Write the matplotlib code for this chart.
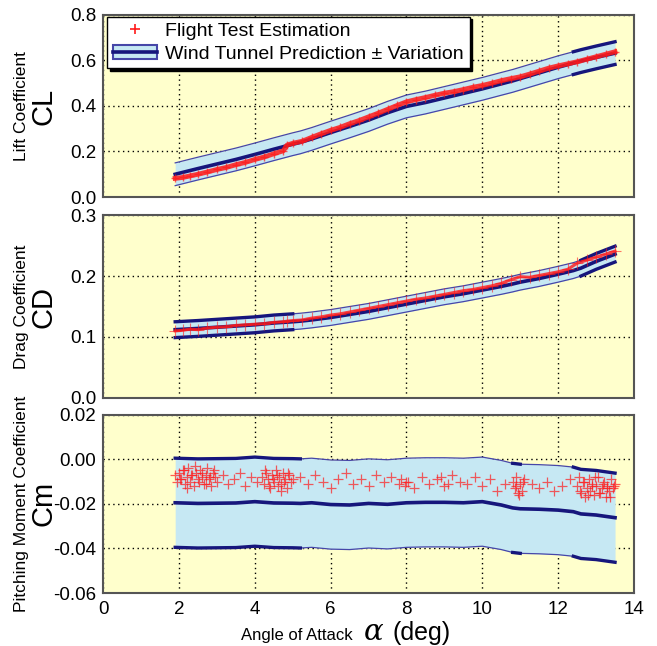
import numpy as np
import matplotlib
matplotlib.use("Agg")
import matplotlib.pyplot as plt
from matplotlib.lines import Line2D
from matplotlib.patches import Patch

plt.rcParams['font.family'] = ['Liberation Sans', 'DejaVu Sans']
plt.rcParams['axes.unicode_minus'] = False

# wind tunnel prediction (centre line), sampled along alpha
a_wt = [1.9, 2.5, 3.0, 3.5, 4.0, 4.5, 5.0, 5.2, 5.5, 6.0, 6.5, 7.0, 7.5, 8.0,
        8.5, 9.0, 9.5, 10.0, 10.5, 10.8, 11.0, 11.5, 12.0, 12.4, 12.6, 13.0, 13.5]
cl_wt = [0.100, 0.125, 0.145, 0.165, 0.187, 0.210, 0.232, 0.240, 0.255, 0.283,
         0.310, 0.338, 0.370, 0.398, 0.415, 0.435, 0.455, 0.475, 0.497, 0.510,
         0.520, 0.545, 0.570, 0.588, 0.597, 0.613, 0.632]
cd_wt = [0.112, 0.114, 0.116, 0.118, 0.120, 0.123, 0.125, 0.126, 0.128, 0.132,
         0.137, 0.142, 0.148, 0.154, 0.160, 0.166, 0.171, 0.177, 0.183, 0.187,
         0.190, 0.196, 0.203, 0.209, 0.213, 0.224, 0.236]
cm_wt = [-0.0195, -0.0198, -0.0197, -0.0196, -0.0190, -0.0196, -0.0197, -0.0198,
         -0.0195, -0.0203, -0.0205, -0.0198, -0.0202, -0.0195, -0.0193, -0.0193,
         -0.0195, -0.0190, -0.0205, -0.0218, -0.0222, -0.0224, -0.0228, -0.0235,
         -0.0245, -0.0250, -0.0262]
cl_var = 0.05
cd_var = 0.013
cm_var = 0.02

# flight test estimates
a_ft = [1.9, 2.1, 2.3, 2.5, 2.75, 3.0, 3.25, 3.5, 3.75, 4.0, 4.25, 4.5, 4.75,
        4.85, 5.0, 5.25, 5.5, 5.75, 6.0, 6.25, 6.5, 6.75, 7.0, 7.25, 7.5, 7.75,
        8.0, 8.25, 8.5, 8.75, 9.0, 9.25, 9.5, 9.75, 10.0, 10.25, 10.5, 10.75,
        11.0, 11.25, 11.5, 11.75, 12.0, 12.25, 12.5, 12.75, 13.0, 13.25, 13.5]
cl_ft = [0.082, 0.086, 0.093, 0.100, 0.110, 0.121, 0.130, 0.142, 0.152, 0.165,
         0.176, 0.190, 0.203, 0.228, 0.236, 0.245, 0.262, 0.278, 0.293, 0.306,
         0.322, 0.336, 0.352, 0.368, 0.385, 0.402, 0.418, 0.428, 0.437, 0.447,
         0.456, 0.463, 0.472, 0.482, 0.490, 0.500, 0.511, 0.520, 0.528, 0.540,
         0.553, 0.566, 0.576, 0.585, 0.594, 0.605, 0.616, 0.627, 0.638]
cd_ft = [0.110, 0.111, 0.113, 0.112, 0.115, 0.116, 0.117, 0.119, 0.120, 0.121,
         0.122, 0.124, 0.125, 0.126, 0.127, 0.128, 0.131, 0.133, 0.136, 0.138,
         0.141, 0.144, 0.147, 0.150, 0.153, 0.156, 0.159, 0.162, 0.164, 0.167,
         0.170, 0.173, 0.176, 0.178, 0.181, 0.184, 0.188, 0.194, 0.199, 0.198,
         0.201, 0.204, 0.207, 0.211, 0.221, 0.226, 0.231, 0.236, 0.241]

cm_ft_a = [1.90, 1.95, 2.00, 2.05, 2.10, 2.15, 2.20, 2.25, 2.30, 2.35, 2.40, 2.45,
           2.50, 2.55, 2.60, 2.65, 2.70, 2.75, 2.80, 2.85, 2.90, 2.95, 3.00,
           2.02, 2.12, 2.22, 2.32, 2.42, 2.52, 2.62, 2.72, 2.82, 2.92,
           3.15, 3.30, 3.45, 3.60, 3.75, 3.90, 4.05,
           4.20, 4.25, 4.30, 4.35, 4.40, 4.45, 4.50, 4.55, 4.60, 4.65, 4.70, 4.75,
           4.80, 4.85, 4.90, 4.95, 5.00,
           4.28, 4.38, 4.48, 4.58, 4.68, 4.78, 4.88,
           5.2, 5.4, 5.6, 5.8, 6.0, 6.2, 6.4, 6.6, 6.8, 7.0, 7.2, 7.4, 7.6, 7.8,
           8.0, 8.2, 8.4, 8.6, 8.8, 9.0, 9.2, 9.4, 9.6, 9.8, 10.0, 10.2, 10.4, 10.6,
           7.85, 7.95, 8.05, 8.9, 9.1,
           10.80, 10.85, 10.90, 10.95, 11.00, 11.05, 11.10, 10.88, 10.98, 11.08,
           11.3, 11.5, 11.7, 11.9, 12.1, 12.3,
           12.50, 12.55, 12.60, 12.65, 12.70, 12.75, 12.80, 12.85, 12.90, 12.95,
           13.00, 13.05, 13.10, 13.15, 13.20, 13.25, 13.30, 13.35, 13.40, 13.45, 13.50,
           12.58, 12.68, 12.78, 12.88, 12.98, 13.08, 13.18, 13.28, 13.38, 13.48]
cm_ft = [-0.007, -0.010, -0.006, -0.009, -0.005, -0.011, -0.008, -0.004, -0.010,
         -0.007, -0.012, -0.006, -0.009, -0.005, -0.008, -0.011, -0.007, -0.004,
         -0.009, -0.012, -0.006, -0.008, -0.010,
         -0.009, -0.005, -0.013, -0.007, -0.003, -0.010, -0.006, -0.011, -0.008, -0.005,
         -0.007, -0.011, -0.009, -0.006, -0.012, -0.008, -0.010,
         -0.008, -0.011, -0.006, -0.009, -0.013, -0.007, -0.010, -0.005, -0.012,
         -0.008, -0.011, -0.006, -0.009, -0.013, -0.007, -0.010, -0.009,
         -0.005, -0.012, -0.009, -0.007, -0.014, -0.010, -0.006,
         -0.008, -0.011, -0.007, -0.010, -0.013, -0.009, -0.006, -0.011, -0.009,
         -0.012, -0.007, -0.010, -0.008, -0.011, -0.010, -0.013, -0.008, -0.011,
         -0.009, -0.012, -0.007, -0.010, -0.011, -0.008, -0.012, -0.009, -0.014, -0.011,
         -0.009, -0.012, -0.010, -0.008, -0.011,
         -0.010, -0.013, -0.008, -0.015, -0.011, -0.014, -0.009, -0.012, -0.016, -0.010,
         -0.011, -0.013, -0.010, -0.014, -0.012, -0.009,
         -0.012, -0.008, -0.015, -0.010, -0.017, -0.013, -0.009, -0.014, -0.011,
         -0.016, -0.012, -0.008, -0.015, -0.013, -0.010, -0.017, -0.012, -0.014,
         -0.009, -0.013, -0.011,
         -0.014, -0.010, -0.016, -0.012, -0.008, -0.015, -0.011, -0.013, -0.017, -0.012]

# alpha ranges where the bounds are traced heavily
heavy_cl = [(12.4, 13.5)]
heavy_cd = [(1.9, 5.0), (12.6, 13.5)]
heavy_cm = [(1.9, 5.2), (10.8, 11.0), (12.4, 13.5)]

bg = '#ffffcc'
band = '#c6e8f3'
edge = '#4646a8'
navy = '#16167c'
red = '#ff1a1a'


def draw_band(ax, a, c, var, heavy):
    a = np.asarray(a)
    c = np.asarray(c)
    ax.fill_between(a, c - var, c + var, color=band, lw=0, zorder=2)
    ax.plot(a, c + var, color=edge, lw=0.9, zorder=3)
    ax.plot(a, c - var, color=edge, lw=0.9, zorder=3)
    for lo, hi in heavy:
        m = (a >= lo) & (a <= hi)
        ax.plot(a[m], c[m] + var, color=navy, lw=2.4, zorder=3)
        ax.plot(a[m], c[m] - var, color=navy, lw=2.4, zorder=3)
    ax.plot(a, c, color=navy, lw=2.6, zorder=4)


fig = plt.figure(figsize=(6.57, 6.46), dpi=100)
ax1 = fig.add_axes([0.157, 0.695, 0.808, 0.282])
ax2 = fig.add_axes([0.157, 0.384, 0.808, 0.283])
ax3 = fig.add_axes([0.157, 0.082, 0.808, 0.276])

draw_band(ax1, a_wt, cl_wt, cl_var, heavy_cl)
ax1.plot(a_ft, cl_ft, color=red, lw=3.5, alpha=0.85, zorder=5)
ax1.plot(a_ft, cl_ft, '+', color=red, ms=6, mew=1, alpha=0.7, zorder=5)

draw_band(ax2, a_wt, cd_wt, cd_var, heavy_cd)
ax2.plot(a_ft, cd_ft, color=red, lw=2.2, alpha=0.8, zorder=5)
ax2.plot(a_ft, cd_ft, '+', color=red, ms=8, mew=0.8, alpha=0.6, zorder=5)

draw_band(ax3, a_wt, cm_wt, cm_var, heavy_cm)
ax3.plot(cm_ft_a, cm_ft, '+', color=red, ms=7, mew=0.9, alpha=0.7, zorder=5)

ax1.set_ylim(0, 0.8)
ax1.set_yticks([0.0, 0.2, 0.4, 0.6, 0.8])
ax1.set_yticklabels(['0.0', '0.2', '0.4', '0.6', '0.8'])
ax2.set_ylim(0, 0.3)
ax2.set_yticks([0.0, 0.1, 0.2, 0.3])
ax2.set_yticklabels(['0.0', '0.1', '0.2', '0.3'])
ax3.set_ylim(-0.06, 0.02)
ax3.set_yticks([-0.06, -0.04, -0.02, 0.0, 0.02])
ax3.set_yticklabels(['-0.06', '-0.04', '-0.02', '0.00', '0.02'])

for ax in (ax1, ax2, ax3):
    ax.set_facecolor(bg)
    ax.set_xlim(0, 14)
    ax.set_xticks(range(0, 15, 2))
    ax.grid(True, color='k', ls=(0, (1, 2.5)), lw=1)
    ax.set_axisbelow(True)
    ax.tick_params(length=0, labelsize=13.5, pad=5)
    for s in ax.spines.values():
        s.set_color('#555555')
        s.set_linewidth(1.5)
ax1.tick_params(labelbottom=False)
ax2.tick_params(labelbottom=False)
ax3.tick_params(axis='x', pad=6)

# two-line y labels
for ax, small, big in ((ax1, 'Lift Coefficient', 'CL'),
                       (ax2, 'Drag Coefficient', 'CD'),
                       (ax3, 'Pitching Moment Coefficient', 'Cm')):
    b = ax.get_position()
    yc = (b.y0 + b.y1) / 2
    fig.text(0.033, yc, small, rotation=90, ha='center', va='center', fontsize=12.5)
    fig.text(0.066, yc, big, rotation=90, ha='center', va='center', fontsize=21)

fig.text(353 / 657, 0.009, 'Angle of Attack', ha='right', va='baseline', fontsize=12)
fig.text(364 / 657, 0.009, '\u03b1', ha='left', va='baseline', fontsize=21,
         fontstyle='italic', family=['DejaVu Serif'])
fig.text(392 / 657, 0.009, '(deg)', ha='left', va='baseline', fontsize=18)

h_ft = Line2D([], [], ls='none', marker='+', color=red, ms=7, mew=1.2)
h_wt = (Patch(facecolor=band, edgecolor=edge, lw=1.5),
        Line2D([], [], color=navy, lw=2.6))
ax1.legend([h_ft, h_wt], ['Flight Test Estimation', 'Wind Tunnel Prediction \u00b1 Variation'],
           loc='upper left', bbox_to_anchor=(0.007, 0.99), borderaxespad=0,
           fontsize=14, fancybox=False, framealpha=1, edgecolor='k',
           shadow={'color': 'k', 'alpha': 1}, handlelength=2.3, handletextpad=0.4,
           labelspacing=0.25, borderpad=0.3)

fig.savefig('out.png', dpi=100)
